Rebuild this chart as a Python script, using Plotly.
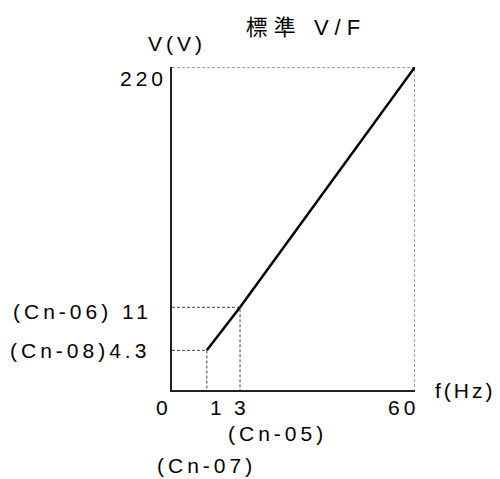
import plotly.graph_objects as go

# ---- data (schematic V/F curve, not drawn to scale) ----
freq_values = [1, 3, 60]            # Hz: Cn-07, Cn-05, max
volt_values = [4.3, 11, 220]        # V : Cn-08, Cn-06, max
freq_params = ["(Cn-07)", "(Cn-05)", ""]
volt_params = ["(Cn-08)", "(Cn-06) ", ""]
# schematic axis positions used by the (not-to-scale) diagram
freq_axis_pos = [8.6, 16.8, 60]
volt_axis_pos = [27.0, 56.3, 220]

title_text = "標準 V/F"
x_title = "f(Hz)"
y_title = "V(V)"

FONT = "Liberation Sans, Arial, Noto Sans CJK TC, sans-serif"
LS = 4


def sp(t, ls=LS):
    return f'<span style="letter-spacing:{ls}px">{t}</span>'


def fmt(v):
    return f"{v:g}"


fig = go.Figure()

guide = dict(color="#444", width=1, dash="3px,2px")

# dashed guides from each break point to the axes
for fx, vy in zip(freq_axis_pos[:2], volt_axis_pos[:2]):
    fig.add_trace(go.Scatter(x=[0, fx, fx], y=[vy, vy, 0], mode="lines",
                             line=guide, cliponaxis=False, hoverinfo="skip"))
# dashed frame to the max point
fig.add_trace(go.Scatter(x=[0, freq_axis_pos[-1], freq_axis_pos[-1]],
                         y=[volt_axis_pos[-1], volt_axis_pos[-1], 0],
                         mode="lines", line=guide, cliponaxis=False, hoverinfo="skip"))

# V/F curve
fig.add_trace(go.Scatter(x=freq_axis_pos, y=volt_axis_pos, mode="lines",
                         line=dict(color="black", width=2.5),
                         cliponaxis=False, hoverinfo="skip"))

ann = []
tf = dict(family=FONT, size=21, color="#000")

# y labels
ann.append(dict(x=0, y=volt_axis_pos[2], text=sp(fmt(volt_values[2])),
                xanchor="right", yanchor="middle", xshift=-3, yshift=-11))
ann.append(dict(x=0, y=volt_axis_pos[1], text=sp(volt_params[1] + fmt(volt_values[1])),
                xanchor="right", yanchor="middle", xshift=-18, yshift=-4))
ann.append(dict(x=0, y=volt_axis_pos[0], text=sp(volt_params[0] + fmt(volt_values[0])),
                xanchor="right", yanchor="middle", xshift=-20, yshift=0))
# x labels
ann.append(dict(x=0, y=0, text=sp("0"), xanchor="center", yanchor="middle",
                xshift=-8, yshift=-17))
ann.append(dict(x=freq_axis_pos[0], y=0, text=sp(fmt(freq_values[0])),
                xanchor="center", yanchor="middle", xshift=11, yshift=-17))
ann.append(dict(x=freq_axis_pos[1], y=0, text=sp(fmt(freq_values[1])),
                xanchor="center", yanchor="middle", xshift=2, yshift=-17))
ann.append(dict(x=freq_axis_pos[2], y=0, text=sp(fmt(freq_values[2])),
                xanchor="center", yanchor="middle", xshift=-12, yshift=-17))
ann.append(dict(x=freq_axis_pos[1], y=0, text=sp(freq_params[1]),
                xanchor="center", yanchor="middle", xshift=37, yshift=-43))
ann.append(dict(x=freq_axis_pos[0], y=0, text=sp(freq_params[0]),
                xanchor="center", yanchor="middle", xshift=0, yshift=-75))
# axis titles
ann.append(dict(x=freq_axis_pos[2], y=0, text=sp(x_title, 3),
                xanchor="left", yanchor="middle", xshift=18, yshift=0))
ann.append(dict(x=0, y=volt_axis_pos[2], text=sp(y_title),
                xanchor="center", yanchor="middle", xshift=5, yshift=24))
for a in ann:
    a.update(xref="x", yref="y", showarrow=False, font=tf)

W, H = 492, 471
fig.update_layout(
    width=W, height=H, autosize=False,
    margin=dict(l=164, r=85, t=59, b=89),
    paper_bgcolor="white", plot_bgcolor="white",
    showlegend=False,
    title=dict(text=sp(title_text, 6), x=(306 - 8) / W, xanchor="center",
               y=1 - (27 - 8) / H, yanchor="middle",
               font=dict(family=FONT, size=22, color="#000")),
    annotations=ann,
    xaxis=dict(range=[0, 60], showgrid=False, zeroline=False, showticklabels=False,
               ticks="", showline=True, linecolor="#222", linewidth=1.5, fixedrange=True),
    yaxis=dict(range=[0, 220], showgrid=False, zeroline=False, showticklabels=False,
               ticks="", showline=True, linecolor="#222", linewidth=1.5, fixedrange=True),
)

fig.write_html("out.html", config={"displayModeBar": False})
